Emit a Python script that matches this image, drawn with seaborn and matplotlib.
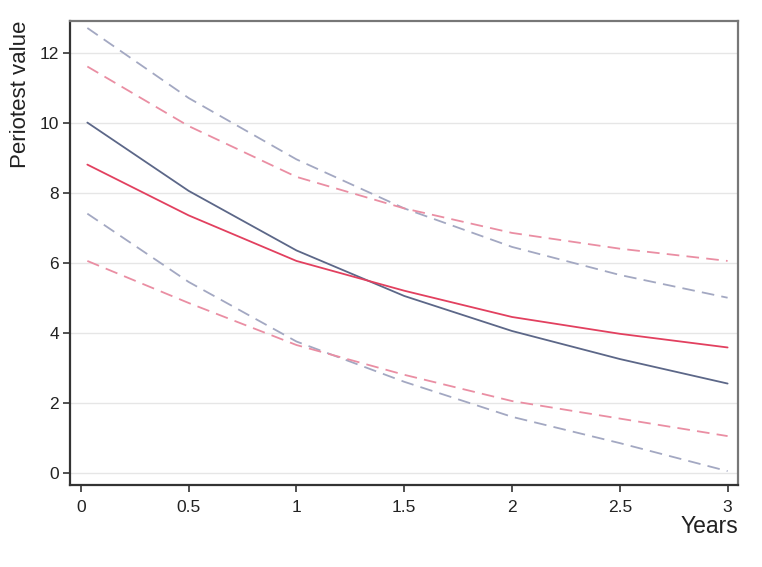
import pandas as pd
import matplotlib
matplotlib.use('Agg')
import matplotlib.pyplot as plt
import seaborn as sns

# Veriler
years = [0.03, 0.5, 1.0, 1.5, 2.0, 2.5, 3.0]
blue_mean = [10.0, 8.05, 6.35, 5.05, 4.05, 3.25, 2.55]
blue_upper = [12.7, 10.7, 8.95, 7.55, 6.45, 5.65, 5.0]
blue_lower = [7.4, 5.45, 3.75, 2.6, 1.6, 0.85, 0.05]
red_mean = [8.8, 7.35, 6.05, 5.2, 4.45, 3.97, 3.58]
red_upper = [11.6, 9.9, 8.45, 7.55, 6.85, 6.4, 6.05]
red_lower = [6.05, 4.85, 3.65, 2.8, 2.05, 1.55, 1.05]

xticks = [0, 0.5, 1, 1.5, 2, 2.5, 3]
xticklabels = ['0', '0.5', '1', '1.5', '2', '2.5', '3']
yticks = [0, 2, 4, 6, 8, 10, 12]

sns.set_style('ticks')
plt.rcParams['font.family'] = ['Liberation Sans', 'DejaVu Sans']

fig = plt.figure(figsize=(7.62, 5.67), dpi=100)
ax = fig.add_axes([0.092, 0.145, 0.877, 0.818])

for yy in yticks:
    ax.axhline(yy, color='#e6e6e6', lw=1.0, zorder=0)

series = [
    (blue_upper, '#a3a8c2', (0, (7, 4))),
    (red_upper, '#ea8ea3', (0, (7, 4))),
    (blue_lower, '#a3a8c2', (0, (7, 4))),
    (red_lower, '#ea8ea3', (0, (7, 4))),
    (blue_mean, '#5c6788', '-'),
    (red_mean, '#e2405f', '-'),
]
for vals, col, ls in series:
    d = pd.DataFrame({'year': years, 'value': vals})
    sns.lineplot(data=d, x='year', y='value', color=col, lw=1.3,
                 linestyle=ls, ax=ax)

ax.set_xlim(-0.05, 3.05)
ax.set_ylim(-0.34, 12.9)
ax.set_xticks(xticks)
ax.set_xticklabels(xticklabels)
ax.set_yticks(yticks)
ax.tick_params(axis='both', direction='out', length=5, width=1.2,
               color='#333333', labelsize=12.5, labelcolor='#222222',
               bottom=True, left=True)
ax.tick_params(axis='x', pad=6)
ax.tick_params(axis='y', pad=3)

for side in ['left', 'bottom']:
    ax.spines[side].set_color('#333333')
    ax.spines[side].set_linewidth(1.6)
for side in ['top', 'right']:
    ax.spines[side].set_visible(True)
    ax.spines[side].set_color('#777777')
    ax.spines[side].set_linewidth(1.6)

ax.set_ylabel('Periotest value', loc='top', fontsize=16, color='#222222', labelpad=6)
ax.set_xlabel('Years', loc='right', fontsize=16.5, color='#222222', labelpad=0)

plt.savefig('out.png', dpi=100)
